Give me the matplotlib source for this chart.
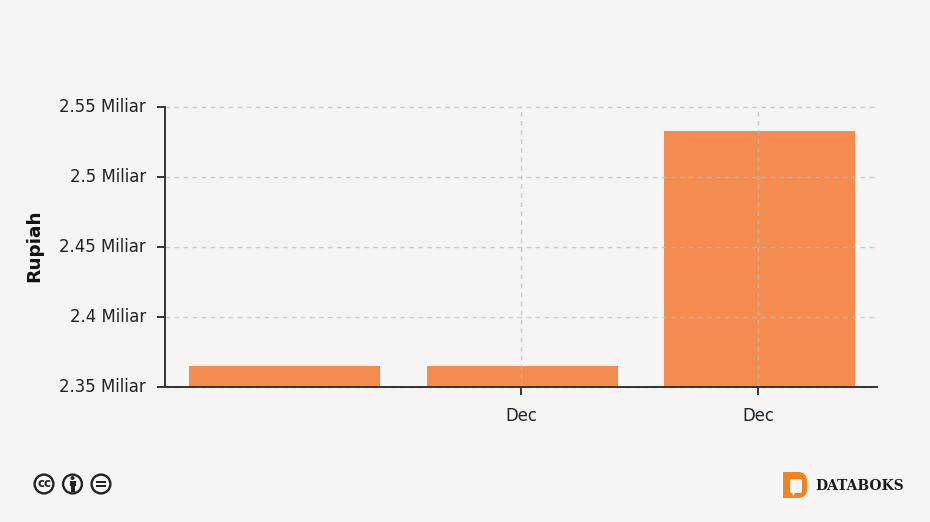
import matplotlib
matplotlib.use("Agg")
import matplotlib.pyplot as plt
from matplotlib.patches import Circle, Rectangle, PathPatch, Polygon, FancyBboxPatch
from matplotlib.path import Path
from matplotlib.transforms import ScaledTranslation

categories = ["", "Dec", "Dec"]
values = [2.365, 2.365, 2.533]
y_ticks = [2.35, 2.40, 2.45, 2.50, 2.55]
y_labels = ["2.35 Miliar", "2.4 Miliar", "2.45 Miliar", "2.5 Miliar", "2.55 Miliar"]
x_tick_idx = [1, 2]
y_title = "Rupiah"
brand = "DATABOKS"

W, H = 930, 522
BG = "#F5F5F5"
INK = "#333333"
plt.rcParams["font.family"] = "DejaVu Sans"

fig = plt.figure(figsize=(W / 100, H / 100), dpi=100, facecolor=BG)
ax = fig.add_axes([165 / W, 1 - 387 / H, (877 - 165) / W, (387 - 107) / H], facecolor=BG)

bar_x = [i + 0.005 for i in range(len(values))]
ax.bar(bar_x, values, width=0.805, color="#F58C4F", zorder=2)
ax.set_xlim(-0.5, 2.5)
ax.set_ylim(2.35, 2.55)
ax.set_yticks(y_ticks)
ax.set_yticklabels(y_labels, fontsize=11.9, color="#222222", va="center_baseline")
ax.set_xticks(x_tick_idx)
ax.set_xticklabels([categories[i] for i in x_tick_idx], fontsize=11.9, color="#222222")
ax.tick_params(axis="y", length=5.8, width=1.4, color=INK, pad=8)
ax.tick_params(axis="x", length=5.8, width=1.4, color=INK, pad=8.6)
up = ScaledTranslation(0, 1.5 / 100, fig.dpi_scale_trans)
for lab in ax.get_yticklabels():
    lab.set_transform(lab.get_transform() + up)
ax.grid(True, color="#BBBBBB", alpha=0.7, linewidth=1.0, linestyle=(0, (3.3, 3.2)), zorder=3)
for gl in ax.get_xgridlines() + ax.get_ygridlines():
    gl.set_clip_on(False)
ax.set_axisbelow(False)
for s in ("top", "right"):
    ax.spines[s].set_visible(False)
for s in ("left", "bottom"):
    ax.spines[s].set_linewidth(1.4)
    ax.spines[s].set_color(INK)
    ax.spines[s].set_zorder(5)

fig.text(34 / W, 1 - 246 / H, y_title, rotation=90, fontsize=13.3, fontweight="bold",
         color="#111111", ha="center", va="center")

# Footer icons and logo, drawn in pixel coordinates
ov = fig.add_axes([0, 0, 1, 1], facecolor="none")
ov.set_xlim(0, W)
ov.set_ylim(H, 0)
ov.axis("off")
DARK = "#222222"
for cx in (44, 72.5, 101):
    ov.add_patch(Circle((cx, 484), 9.4, facecolor="none", edgecolor=DARK, linewidth=1.7))
ov.text(44, 483.5, "cc", fontsize=8.5, fontweight="bold", color=DARK, ha="center", va="center")
ov.add_patch(Circle((72.5, 478), 2, color=DARK, linewidth=0))
ov.add_patch(Rectangle((69.5, 480.5), 6, 5.5, color=DARK, linewidth=0))
ov.add_patch(Rectangle((70.5, 486), 4, 5.5, color=DARK, linewidth=0))
ov.add_patch(Rectangle((96, 481), 10, 2.2, color=DARK, linewidth=0))
ov.add_patch(Rectangle((96, 485), 10, 2.2, color=DARK, linewidth=0))

codes = [Path.MOVETO, Path.LINETO, Path.CURVE4, Path.CURVE4, Path.CURVE4,
         Path.LINETO, Path.CURVE4, Path.CURVE4, Path.CURVE4, Path.LINETO, Path.CLOSEPOLY]
verts = [(783, 472), (798, 472), (804, 472), (807, 476), (807, 481),
         (807, 490), (807, 495), (803, 498), (798, 498), (783, 498), (783, 472)]
ov.add_patch(PathPatch(Path(verts, codes), facecolor="#F58220", edgecolor="none"))
ov.add_patch(FancyBboxPatch((791, 480), 10, 12, boxstyle="round,pad=1,rounding_size=2",
                            facecolor=BG, edgecolor="none"))
ov.add_patch(Polygon([(792, 492), (796, 492), (793, 496)], facecolor=BG, edgecolor="none"))
ov.text(815, 485.5, brand, family="DejaVu Serif", fontsize=10, fontweight="bold",
        color="#1A1A1A", ha="left", va="center")

fig.savefig("out.png", dpi=100, facecolor=BG)
